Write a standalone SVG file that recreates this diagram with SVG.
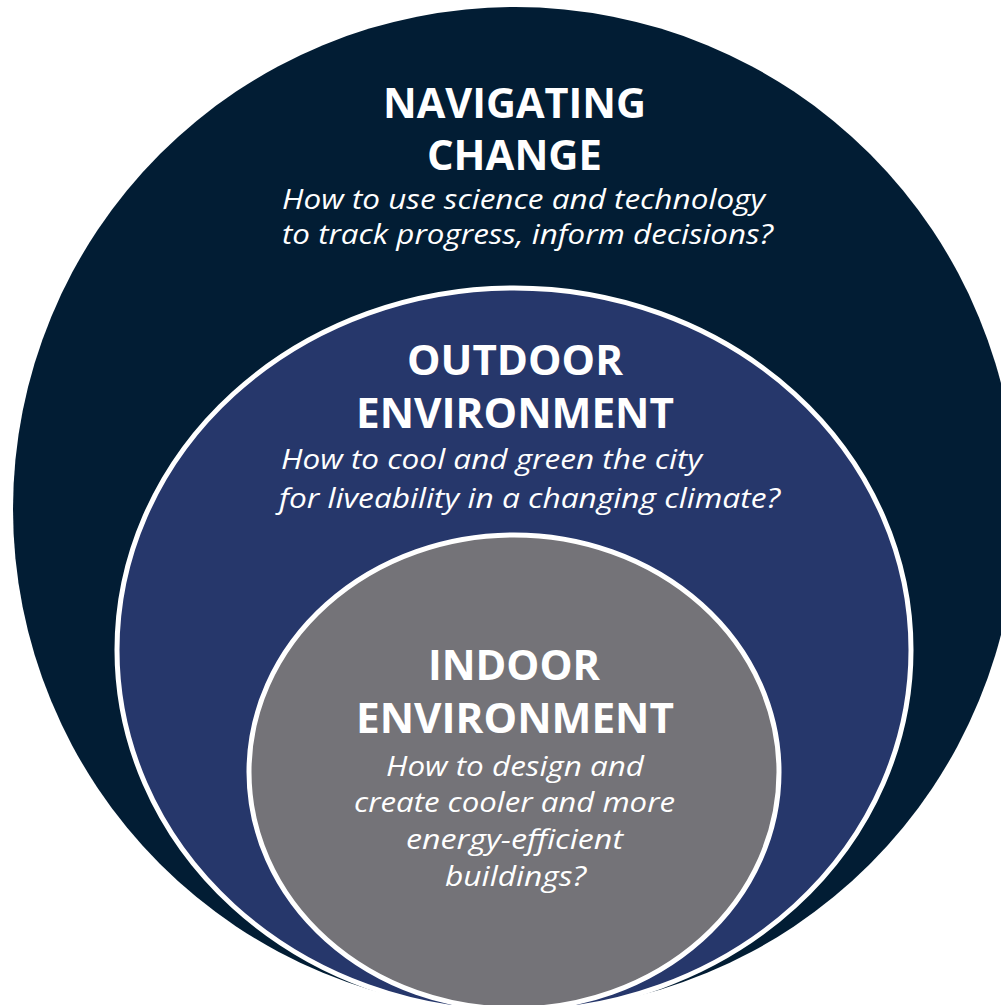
<svg xmlns="http://www.w3.org/2000/svg" width="1001" height="1005" viewBox="0 0 1001 1005">
  <style>
    .h { font-family: "Open Sans", "Noto Sans", sans-serif; font-weight: bold; font-size: 42px; fill: #ffffff; }
    .q { font-family: "Open Sans", "Noto Sans", sans-serif; font-style: italic; font-size: 28px; fill: #ffffff; }
    .ring { stroke: #ffffff; stroke-width: 5; }
  </style>
  <rect x="0" y="0" width="1001" height="1005" fill="#ffffff"/>
  <g id="navigating-change">
    <circle cx="515" cy="509" r="502" fill="#021d34"/>
    <text class="h" x="383" y="118" textLength="263" lengthAdjust="spacingAndGlyphs">NAVIGATING</text>
    <text class="h" x="427" y="170" textLength="175" lengthAdjust="spacingAndGlyphs">CHANGE</text>
    <text class="q" x="282" y="209" textLength="483" lengthAdjust="spacingAndGlyphs">How to use science and technology</text>
    <text class="q" x="282" y="244" textLength="491" lengthAdjust="spacingAndGlyphs">to track progress, inform decisions?</text>
  </g>
  <g id="outdoor-environment">
    <ellipse class="ring" cx="514" cy="650" rx="397" ry="362" fill="#26376b"/>
    <text class="h" x="407" y="375" textLength="216" lengthAdjust="spacingAndGlyphs">OUTDOOR</text>
    <text class="h" x="356" y="428" textLength="318" lengthAdjust="spacingAndGlyphs">ENVIRONMENT</text>
    <text class="q" x="281" y="469" textLength="421" lengthAdjust="spacingAndGlyphs">How to cool and green the city</text>
    <text class="q" x="279" y="508" textLength="501" lengthAdjust="spacingAndGlyphs">for liveability in a changing climate?</text>
  </g>
  <g id="indoor-environment">
    <ellipse class="ring" cx="514" cy="772" rx="265" ry="237" fill="#747378"/>
    <text class="h" x="428" y="680" textLength="172" lengthAdjust="spacingAndGlyphs">INDOOR</text>
    <text class="h" x="356" y="733" textLength="318" lengthAdjust="spacingAndGlyphs">ENVIRONMENT</text>
    <text class="q" x="386" y="776" textLength="258" lengthAdjust="spacingAndGlyphs">How to design and</text>
    <text class="q" x="354" y="812" textLength="321" lengthAdjust="spacingAndGlyphs">create cooler and more</text>
    <text class="q" x="406" y="849" textLength="217" lengthAdjust="spacingAndGlyphs">energy-efficient</text>
    <text class="q" x="445" y="886" textLength="141" lengthAdjust="spacingAndGlyphs">buildings?</text>
  </g>
  <g id="connectors"/>
</svg>
